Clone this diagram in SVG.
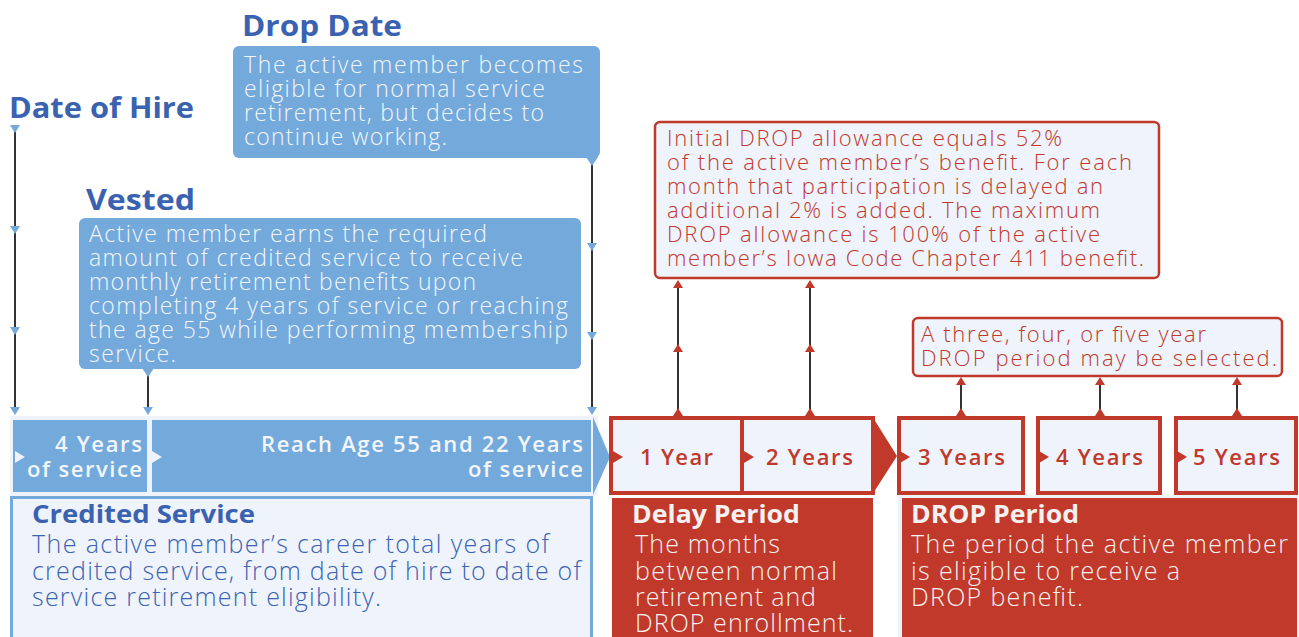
<svg xmlns="http://www.w3.org/2000/svg" width="1299" height="637" viewBox="0 0 1299 637">
<defs>
<style>
text{font-family:"Open Sans","Liberation Sans",sans-serif}
.title{font-weight:700;font-size:28px;fill:#3a62b0}
.wt{font-weight:300;font-size:23px;fill:#f2f6fc}
.rt{font-weight:300;font-size:22px;fill:#c0392b}
.bar{font-weight:600;font-size:22px;fill:#f2f6fc}
.yr{font-weight:600;font-size:22px;fill:#c0392b}
.hd{font-weight:700;font-size:25px}
.bd{font-weight:300;font-size:25px}
.wh{fill:#f5f1f0}
.blue{fill:#74a9db}
.red{fill:#c0392b}
.light{fill:#eff3fb}
.ln{stroke:#333;stroke-width:2;fill:none}
.rbox{fill:#eff3fb;stroke:#c0392b;stroke-width:4}
</style>
<path id="dn" d="M-5,0 L5,0 L0,8 Z"/>
<path id="up" d="M-5,8 L5,8 L0,0 Z"/>
<path id="rt" d="M0,-6 L10,0 L0,6 Z"/>
</defs>

<g id="connectors">
<line class="ln" x1="15" y1="125" x2="15" y2="412"/>
<line class="ln" x1="148" y1="372" x2="148" y2="412"/>
<line class="ln" x1="592" y1="160" x2="592" y2="412"/>
<line class="ln" x1="678" y1="284" x2="678" y2="414"/>
<line class="ln" x1="810" y1="284" x2="810" y2="414"/>
<line class="ln" x1="961" y1="380" x2="961" y2="414"/>
<line class="ln" x1="1100" y1="380" x2="1100" y2="414"/>
<line class="ln" x1="1237" y1="380" x2="1237" y2="414"/>
<g class="blue">
<use href="#dn" x="15" y="125"/><use href="#dn" x="15" y="226"/><use href="#dn" x="15" y="327"/><use href="#dn" x="15" y="407"/>
<use href="#dn" x="148" y="407"/>
<use href="#dn" x="592" y="243"/><use href="#dn" x="592" y="332"/><use href="#dn" x="592" y="407"/>
</g>
<g class="red">
<use href="#up" x="678" y="280"/><use href="#up" x="678" y="344"/><use href="#up" x="678" y="408"/>
<use href="#up" x="810" y="280"/><use href="#up" x="810" y="344"/><use href="#up" x="810" y="408"/>
<use href="#up" x="961" y="377"/><use href="#up" x="961" y="408"/>
<use href="#up" x="1100" y="377"/><use href="#up" x="1100" y="408"/>
<use href="#up" x="1237" y="377"/><use href="#up" x="1237" y="408"/>
</g>
</g>

<g id="date-of-hire">
<text class="title" x="9" y="118" textLength="185" lengthAdjust="spacingAndGlyphs">Date of Hire</text>
</g>

<g id="drop-date">
<text class="title" x="242" y="36" textLength="160" lengthAdjust="spacingAndGlyphs">Drop Date</text>
<rect class="blue" x="233" y="46" width="367" height="112" rx="6"/>
<path class="blue" d="M586,157 L598,157 L592,166 Z"/>
<text class="wt" x="244" y="73" textLength="339" lengthAdjust="spacing">The active member becomes</text>
<text class="wt" x="244" y="97" textLength="301" lengthAdjust="spacing">eligible for normal service</text>
<text class="wt" x="244" y="121" textLength="300" lengthAdjust="spacing">retirement, but decides to</text>
<text class="wt" x="244" y="145" textLength="203" lengthAdjust="spacing">continue working.</text>
</g>

<g id="vested">
<text class="title" x="86" y="210" textLength="109" lengthAdjust="spacingAndGlyphs">Vested</text>
<rect class="blue" x="79" y="218" width="502" height="151" rx="6"/>
<path class="blue" d="M142,368 L154,368 L148,377 Z"/>
<text class="wt" x="89" y="242" textLength="398" lengthAdjust="spacing">Active member earns the required</text>
<text class="wt" x="89" y="266" textLength="434" lengthAdjust="spacing">amount of credited service to receive</text>
<text class="wt" x="89" y="290" textLength="387" lengthAdjust="spacing">monthly retirement benefits upon</text>
<text class="wt" x="89" y="314" textLength="479" lengthAdjust="spacing">completing 4 years of service or reaching</text>
<text class="wt" x="89" y="338" textLength="479" lengthAdjust="spacing">the age 55 while performing membership</text>
<text class="wt" x="89" y="362" textLength="87" lengthAdjust="spacing">service.</text>
</g>

<g id="allowance-note">
<rect x="655" y="122" width="504" height="156" rx="5" fill="#eff3fb" stroke="#c0392b" stroke-width="2.5"/>
<text class="rt" x="667" y="146" textLength="395" lengthAdjust="spacing">Initial DROP allowance equals 52%</text>
<text class="rt" x="667" y="170" textLength="465" lengthAdjust="spacing">of the active member’s benefit. For each</text>
<text class="rt" x="667" y="194" textLength="436" lengthAdjust="spacing">month that participation is delayed an</text>
<text class="rt" x="667" y="218" textLength="433" lengthAdjust="spacing">additional 2% is added. The maximum</text>
<text class="rt" x="667" y="242" textLength="433" lengthAdjust="spacing">DROP allowance is 100% of the active</text>
<text class="rt" x="667" y="266" textLength="477" lengthAdjust="spacing">member’s Iowa Code Chapter 411 benefit.</text>
</g>

<g id="period-note">
<rect x="913" y="318" width="369" height="58" rx="5" fill="#eff3fb" stroke="#c0392b" stroke-width="2.5"/>
<text class="rt" x="921" y="342" textLength="285" lengthAdjust="spacing">A three, four, or five year</text>
<text class="rt" x="921" y="366" textLength="356" lengthAdjust="spacing">DROP period may be selected.</text>
</g>

<g id="credited-bar">
<rect class="light" x="10" y="416" width="588" height="80"/>
<rect class="blue" x="13" y="420" width="134" height="72"/>
<rect class="blue" x="152" y="420" width="439" height="72"/>
<path class="blue" d="M593,417 L610,457 L593,495 Z"/>
<g class="light"><use href="#rt" x="15" y="457"/><use href="#rt" x="152" y="457"/></g>
<text class="bar" x="55" y="452" textLength="87" lengthAdjust="spacing">4 Years</text>
<text class="bar" x="27" y="477" textLength="115" lengthAdjust="spacing">of service</text>
<text class="bar" x="261" y="452" textLength="322" lengthAdjust="spacing">Reach Age 55 and 22 Years</text>
<text class="bar" x="468" y="477" textLength="115" lengthAdjust="spacing">of service</text>
</g>

<g id="credited-service">
<rect x="11.5" y="497.5" width="580" height="150" fill="#eff3fb" stroke="#74a9db" stroke-width="3"/>
<text class="hd" x="32" y="523" fill="#3a62b0" textLength="223" lengthAdjust="spacingAndGlyphs">Credited Service</text>
<text class="bd" x="32" y="553" fill="#3b64b3" textLength="517" lengthAdjust="spacing">The active member’s career total years of</text>
<text class="bd" x="32" y="580" fill="#3b64b3" textLength="549" lengthAdjust="spacing">credited service, from date of hire to date of</text>
<text class="bd" x="32" y="606" fill="#3b64b3" textLength="349" lengthAdjust="spacing">service retirement eligibility.</text>
</g>

<g id="delay-years">
<rect class="rbox" x="611" y="418" width="262" height="75"/>
<line x1="742" y1="418" x2="742" y2="493" stroke="#c0392b" stroke-width="4"/>
<path class="red" d="M872,416 L897,456 L872,495 Z"/>
<g class="red"><use href="#rt" x="613" y="457"/><use href="#rt" x="744" y="457"/></g>
<text class="yr" x="640" y="465" textLength="73" lengthAdjust="spacing">1 Year</text>
<text class="yr" x="766" y="465" textLength="87" lengthAdjust="spacing">2 Years</text>
</g>

<g id="drop-years">
<rect class="rbox" x="899" y="418" width="124" height="75"/>
<rect class="rbox" x="1038" y="418" width="122" height="75"/>
<rect class="rbox" x="1176" y="418" width="120" height="75"/>
<g class="red"><use href="#rt" x="900" y="457"/><use href="#rt" x="1039" y="457"/><use href="#rt" x="1177" y="457"/></g>
<text class="yr" x="918" y="465" textLength="87" lengthAdjust="spacing">3 Years</text>
<text class="yr" x="1056" y="465" textLength="87" lengthAdjust="spacing">4 Years</text>
<text class="yr" x="1193" y="465" textLength="87" lengthAdjust="spacing">5 Years</text>
</g>

<g id="delay-period">
<rect class="red" x="612" y="498" width="261" height="145"/>
<text class="hd wh" x="632" y="523" textLength="168" lengthAdjust="spacingAndGlyphs">Delay Period</text>
<text class="bd wh" x="635" y="553" textLength="145" lengthAdjust="spacing">The months</text>
<text class="bd wh" x="635" y="580" textLength="202" lengthAdjust="spacing">between normal</text>
<text class="bd wh" x="635" y="606" textLength="181" lengthAdjust="spacing">retirement and</text>
<text class="bd wh" x="635" y="632" textLength="218" lengthAdjust="spacing">DROP enrollment.</text>
</g>

<g id="drop-period">
<rect class="light" x="898" y="495" width="401" height="142"/>
<rect class="red" x="902" y="498" width="395" height="145"/>
<text class="hd wh" x="911" y="523" textLength="168" lengthAdjust="spacingAndGlyphs">DROP Period</text>
<text class="bd wh" x="911" y="553" textLength="377" lengthAdjust="spacing">The period the active member</text>
<text class="bd wh" x="911" y="580" textLength="269" lengthAdjust="spacing">is eligible to receive a</text>
<text class="bd wh" x="911" y="606" textLength="172" lengthAdjust="spacing">DROP benefit.</text>
</g>
</svg>
